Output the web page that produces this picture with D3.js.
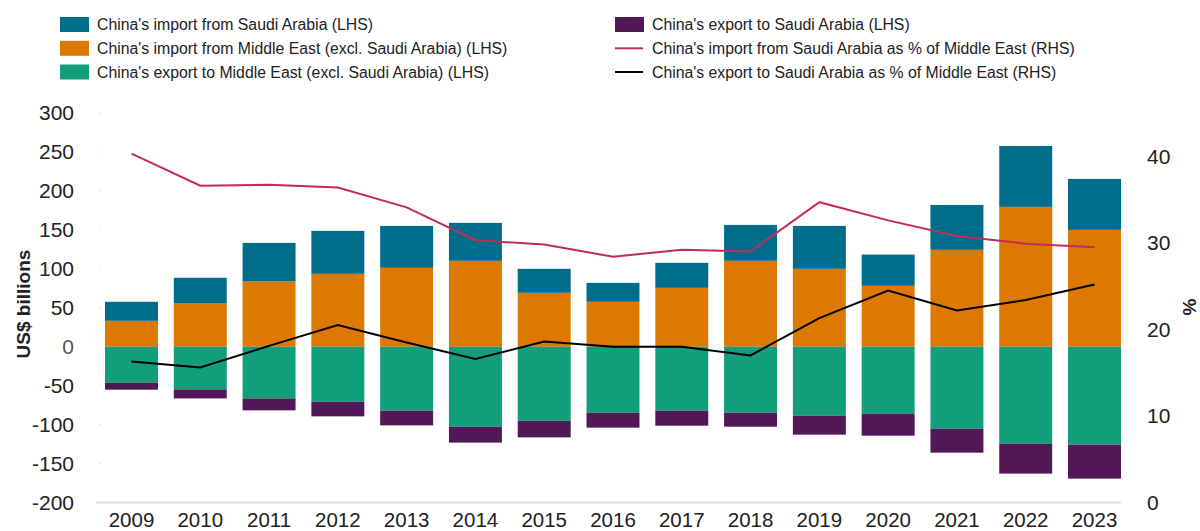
<!DOCTYPE html>
<html><head><meta charset="utf-8">
<script src="https://cdn.jsdelivr.net/npm/d3@7"></script>
<style>body{margin:0;background:#fff;} svg{display:block;font-family:"Liberation Sans",Arial,sans-serif;}</style>
</head><body><svg id="c" width="1200" height="531"></svg>
<script>
const years = ["2009","2010","2011","2012","2013","2014","2015","2016","2017","2018","2019","2020","2021","2022","2023"];
const importSaudi = [24.4,33.0,49.5,55.1,53.8,48.7,30.8,24.3,32.1,46.1,55.1,40.1,57.6,78.2,65.4];
const importME = [33.3,55.5,83.8,93.6,101.3,110.3,69.2,57.7,75.6,110.3,100.0,78.2,124.4,179.5,150.0];
const exportME = [-46.2,-54.7,-66.3,-70.5,-82.0,-102.6,-94.9,-84.6,-82.0,-84.6,-88.5,-85.9,-105.1,-124.4,-125.6];
const exportSaudi = [-8.9,-11.6,-15.3,-18.8,-18.9,-20.4,-21.4,-19.2,-19.3,-18.0,-24.3,-28.2,-30.8,-38.4,-43.6];
const importPct = [40.3,36.6,36.7,36.4,34.1,30.3,29.8,28.4,29.2,29.0,34.7,32.6,30.8,29.9,29.5];
const exportPct = [16.3,15.6,18.1,20.5,18.5,16.6,18.6,18.0,18.0,17.0,21.3,24.5,22.2,23.4,25.2];
const leftTicks = [300,250,200,150,100,50,0,-50,-100,-150,-200];
const rightTicks = [0,10,20,30,40];

const colors = {impSaudi:"#006E8A", impME:"#DD7900", expME:"#109E7B", expSaudi:"#511756", red:"#C42A5B", black:"#000000"};
const svg = d3.select("#c");
const txt = "#222";

const x = d3.scaleBand().domain(years).range([97.1,1128.9]).paddingInner(0.23).paddingOuter(0.115);
const yL = d3.scaleLinear().domain([-200,300]).range([502.6,113]);
const yR = d3.scaleLinear().domain([0,45]).range([502.6,113]);

// left ticks
const gl = svg.append("g");
leftTicks.forEach(t=>{
  gl.append("line").attr("x1",99).attr("x2",101).attr("y1",yL(t)).attr("y2",yL(t)).attr("stroke","#e4e4e4").attr("stroke-width",1);
  gl.append("text").attr("x",74).attr("y",yL(t)).attr("dy","0.35em").attr("text-anchor","end")
    .attr("font-size",21).attr("fill",t===0?"#555":txt).text(t);
});
rightTicks.forEach(t=>{
  svg.append("text").attr("x",1147).attr("y",yR(t)).attr("dy","0.35em").attr("text-anchor","start")
    .attr("font-size",21).attr("fill",txt).text(t);
});
svg.append("text").attr("transform","translate(30,304) rotate(-90)").attr("text-anchor","middle")
  .attr("font-size",19).attr("font-weight","bold").attr("fill",txt).text("US$ billions");
svg.append("text").attr("transform","translate(1196,307) rotate(-90)").attr("text-anchor","middle")
  .attr("font-size",19).attr("font-weight","bold").attr("fill",txt).text("%");

// bars
const bw = x.bandwidth();
const g = svg.append("g");
years.forEach((yr,i)=>{
  const x0 = x(yr);
  g.append("rect").attr("x",x0).attr("width",bw).attr("y",yL(importME[i])).attr("height",yL(0)-yL(importME[i])).attr("fill",colors.impME);
  g.append("rect").attr("x",x0).attr("width",bw).attr("y",yL(importME[i]+importSaudi[i])).attr("height",yL(importME[i])-yL(importME[i]+importSaudi[i])).attr("fill",colors.impSaudi);
  g.append("rect").attr("x",x0).attr("width",bw).attr("y",yL(0)).attr("height",yL(exportME[i])-yL(0)).attr("fill",colors.expME);
  g.append("rect").attr("x",x0).attr("width",bw).attr("y",yL(exportME[i])).attr("height",yL(exportME[i]+exportSaudi[i])-yL(exportME[i])).attr("fill",colors.expSaudi);
});

// axis line
svg.append("line").attr("x1",96).attr("x2",1121).attr("y1",502.5).attr("y2",502.5).attr("stroke","#dfe2e2").attr("stroke-width",2);
years.forEach(yr=>{
  svg.append("text").attr("x",x(yr)+bw/2).attr("y",520).attr("dy","0.35em").attr("text-anchor","middle")
    .attr("font-size",20.5).attr("fill",txt).text(yr);
});

// lines
const line = d3.line().x((d,i)=>x(years[i])+bw/2).y(d=>yR(d));
svg.append("path").datum(importPct).attr("d",line).attr("fill","none").attr("stroke",colors.red).attr("stroke-width",2);
svg.append("path").datum(exportPct).attr("d",line).attr("fill","none").attr("stroke",colors.black).attr("stroke-width",2);

// legend
const legL = [["China's import from Saudi Arabia (LHS)",colors.impSaudi],["China's import from Middle East (excl. Saudi Arabia) (LHS)",colors.impME],["China's export to Middle East (excl. Saudi Arabia) (LHS)",colors.expME]];
const legR = [["China's export to Saudi Arabia (LHS)",colors.expSaudi,"rect"],["China's import from Saudi Arabia as % of Middle East (RHS)",colors.red,"line"],["China's export to Saudi Arabia as % of Middle East (RHS)",colors.black,"line"]];
const rowsY = [24.5,48.3,72];
legL.forEach((d,i)=>{
  svg.append("rect").attr("x",60).attr("y",rowsY[i]-7.5).attr("width",29).attr("height",15).attr("fill",d[1]);
  svg.append("text").attr("x",97).attr("y",rowsY[i]).attr("dy","0.35em").attr("font-size",15.8).attr("fill",txt).text(d[0]);
});
legR.forEach((d,i)=>{
  if(d[2]==="rect") svg.append("rect").attr("x",615).attr("y",rowsY[i]-7.5).attr("width",29).attr("height",15).attr("fill",d[1]);
  else svg.append("line").attr("x1",615).attr("x2",643).attr("y1",rowsY[i]).attr("y2",rowsY[i]).attr("stroke",d[1]).attr("stroke-width",2);
  svg.append("text").attr("x",652).attr("y",rowsY[i]).attr("dy","0.35em").attr("font-size",15.8).attr("fill",txt).text(d[0]);
});
</script></body></html>
